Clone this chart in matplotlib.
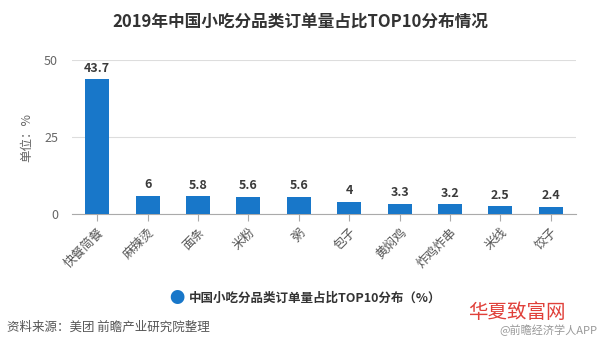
import matplotlib.pyplot as plt
import numpy as np

plt.rcParams['font.family'] = ['Noto Sans CJK SC', 'DejaVu Sans']

categories = ['快餐简餐', '麻辣烫', '面条', '米粉', '粥', '包子', '黄焖鸡', '炸鸡炸串', '米线', '饺子']
values = [43.7, 6, 5.8, 5.6, 5.6, 4, 3.3, 3.2, 2.5, 2.4]
value_labels = ['43.7', '6', '5.8', '5.6', '5.6', '4', '3.3', '3.2', '2.5', '2.4']
yticks = [0, 25, 50]

bar_color = '#1877c9'

fig = plt.figure(figsize=(6, 3.57), dpi=100)
ax = fig.add_axes([0.12, 0.40, 0.84, 0.432])

x = np.arange(len(categories))
ax.bar(x, values, width=0.48, color=bar_color, zorder=3)
for xi, v, lab in zip(x, values, value_labels):
    ax.text(xi, v + 1.5, lab, ha='center', va='bottom', fontsize=9,
            fontweight='bold', color='#3a3a3a')

ax.set_xlim(-0.5, len(categories) - 0.5)
ax.set_ylim(0, 50)
ax.set_yticks(yticks)
ax.set_yticklabels([str(t) for t in yticks], fontsize=9, color='#666666')
ax.set_xticks(x)
ax.set_xticklabels(categories, rotation=45, ha='right', rotation_mode='anchor',
                   fontsize=9, color='#555555')
ax.tick_params(axis='y', length=0, pad=10)
ax.tick_params(axis='x', length=5, color='#aaaaaa', direction='out')
ax.grid(axis='y', color='#dddddd', linewidth=0.8, zorder=0)
for s in ['top', 'right', 'left']:
    ax.spines[s].set_visible(False)
ax.spines['bottom'].set_color('#aaaaaa')
ax.set_ylabel('单位：%', fontsize=9, color='#666666', labelpad=8)

fig.text(0.5, 0.94, '2019年中国小吃分品类订单量占比TOP10分布情况', ha='center',
         va='center', fontsize=12, fontweight='bold', color='#333333')

# legend
fig.text(0.295, 0.165, '●', ha='center', va='center', fontsize=11, color=bar_color)
fig.text(0.315, 0.165, '中国小吃分品类订单量占比TOP10分布（%）', ha='left', va='center',
         fontsize=9, fontweight='bold', color='#333333')

fig.text(0.012, 0.082, '资料来源：美团 前瞻产业研究院整理', ha='left', va='center',
         fontsize=9, color='#555555')
fig.text(0.78, 0.125, '华夏致富网', ha='left', va='center', fontsize=14, color='#e0403a')
fig.text(0.995, 0.075, '@前瞻经济学人APP', ha='right', va='center', fontsize=8, color='#999999')

fig.savefig('out.png', dpi=100)
